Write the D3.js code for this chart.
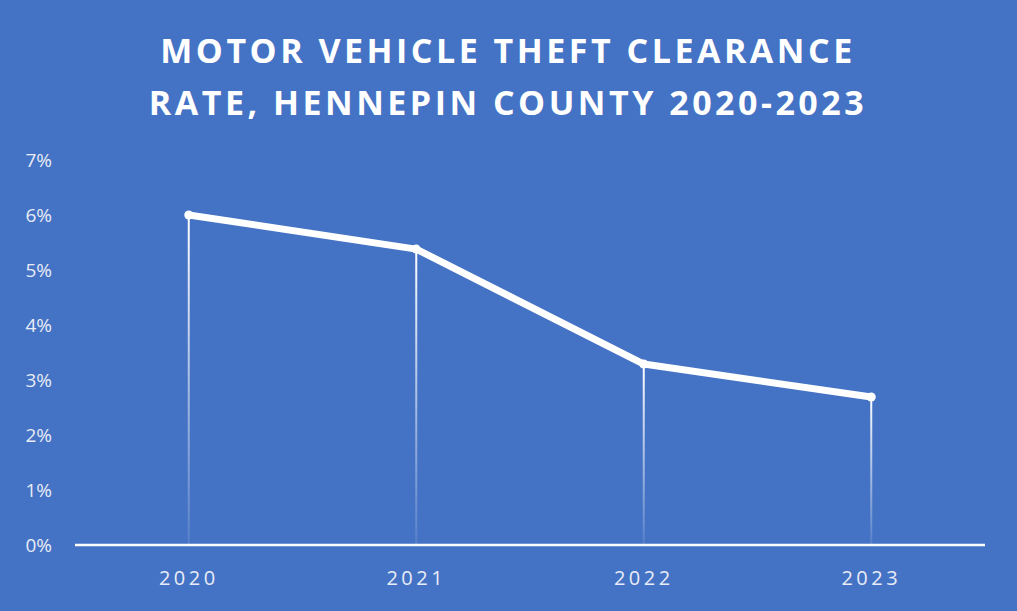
<!DOCTYPE html>
<html><head><meta charset="utf-8">
<script src="https://cdn.jsdelivr.net/npm/d3@7"></script>
<style>body{margin:0;background:#4472C4;}svg{display:block;}</style>
</head><body>
<script>
const years = ["2020","2021","2022","2023"];
const rates = [6.0, 5.38, 3.29, 2.69];
const yTicks = [0,1,2,3,4,5,6,7];
const titleLines = ["MOTOR VEHICLE THEFT CLEARANCE","RATE, HENNEPIN COUNTY 2020-2023"];

const W=1017,H=611;
const svg=d3.select("body").append("svg").attr("width",W).attr("height",H);
svg.append("rect").attr("width",W).attr("height",H).attr("fill","#4472C4");
const defs=svg.append("defs");
const g=defs.append("linearGradient").attr("id","drop").attr("x1",0).attr("y1",0).attr("x2",0).attr("y2",1);
g.append("stop").attr("offset","0%").attr("stop-color","#fff").attr("stop-opacity",1);
g.append("stop").attr("offset","100%").attr("stop-color","#fff").attr("stop-opacity",0.1);

svg.selectAll("text.title").data(titleLines).enter().append("text")
 .attr("x",508).attr("y",(d,i)=>63+i*52).attr("text-anchor","middle")
 .attr("fill","#fff").attr("font-family","Open Sans").attr("font-weight","bold")
 .attr("font-size",34).attr("letter-spacing",3.5).text(d=>d);

const x=d3.scaleBand().domain(years).range([75,985]);
const y=d3.scaleLinear().domain([0,7]).range([545,160]);

svg.selectAll("text.yt").data(yTicks).enter().append("text")
 .attr("x",52).attr("y",d=>y(d)+7).attr("text-anchor","end")
 .attr("fill","#e8ecf6").attr("font-family","Open Sans").attr("font-size",19)
 .text(d=>d+"%");

svg.selectAll("rect.drop").data(years).enter().append("rect")
 .attr("x",d=>x(d)+x.bandwidth()/2-1).attr("width",2)
 .attr("y",(d,i)=>y(rates[i])).attr("height",(d,i)=>545-y(rates[i]))
 .attr("fill","url(#drop)");

svg.append("line").attr("x1",75).attr("x2",985).attr("y1",545).attr("y2",545)
 .attr("stroke","#fff").attr("stroke-width",2.5);

svg.selectAll("text.xt").data(years).enter().append("text")
 .attr("x",d=>x(d)+x.bandwidth()/2).attr("y",585).attr("text-anchor","middle")
 .attr("fill","#e8ecf6").attr("font-family","Open Sans").attr("font-size",20)
 .attr("letter-spacing",3.5).text(d=>d);

const line=d3.line().x((d,i)=>x(years[i])+x.bandwidth()/2).y(d=>y(d));
svg.append("path").datum(rates).attr("d",line).attr("fill","none")
 .attr("stroke","#fff").attr("stroke-width",7).attr("stroke-linejoin","round").attr("stroke-linecap","round");
svg.selectAll("circle").data(rates).enter().append("circle")
 .attr("cx",(d,i)=>x(years[i])+x.bandwidth()/2).attr("cy",d=>y(d)).attr("r",4.5).attr("fill","#fff");
</script>
</body></html>
